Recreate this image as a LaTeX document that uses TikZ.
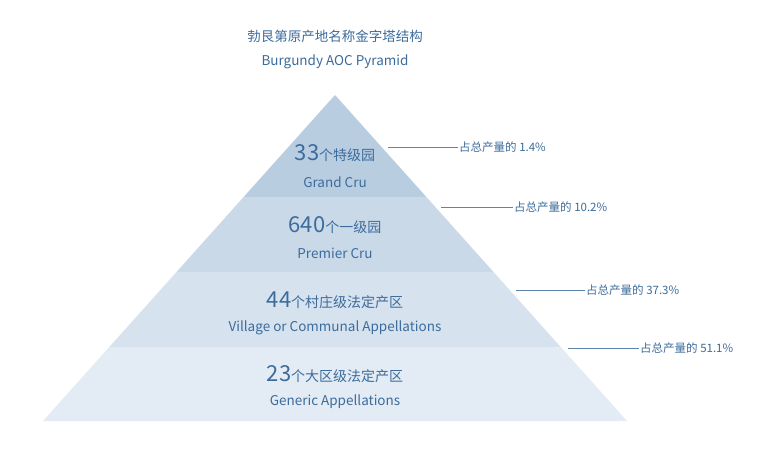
\documentclass[tikz,border=0pt]{standalone}
\usepackage{fontspec}
\setmainfont{Noto Sans CJK SC}
\begin{document}
\begin{tikzpicture}[x=1pt,y=-1pt,
  lbl/.style={text=tcol,inner sep=0pt},
  eng/.style={text=tcol,inner sep=0pt,font=\fontsize{13.5}{16}\selectfont},
  conn/.style={draw=lcol,line width=0.8pt},
  pct/.style={text=tcol,font=\fontsize{11.5}{14}\selectfont,anchor=west,inner sep=1pt}]
\definecolor{tcol}{HTML}{3C6C9C}
\definecolor{lcol}{HTML}{5B85AD}
\definecolor{c1}{HTML}{B9CDE1}
\definecolor{c2}{HTML}{C9D9E8}
\definecolor{c3}{HTML}{D6E2EE}
\definecolor{c4}{HTML}{E3EBF4}
\newcommand\bignum[2]{\fontsize{22}{26}\selectfont #1\fontsize{14}{16}\selectfont #2}
\useasboundingbox (0,0) rectangle (764,456);
\fill[white] (0,0) rectangle (764,456);
\fill[c1] (335,95) -- (426.4,197) -- (243.6,197) -- cycle;
\fill[c2] (243.6,197) -- (426.4,197) -- (493.5,272) -- (176.5,272) -- cycle;
\fill[c3] (176.5,272) -- (493.5,272) -- (560.7,347) -- (109.3,347) -- cycle;
\fill[c4] (109.3,347) -- (560.7,347) -- (627,421) -- (43,421) -- cycle;
\node[eng] (t1) at (335,36) {勃艮第原产地名称金字塔结构};
\node[eng] (t2) at (335,62) {Burgundy AOC Pyramid};
\node[lbl] (a1) at (335,153) {\bignum{33}{个特级园}};
\node[eng] (b1) at (335,182) {Grand Cru};
\node[lbl] (a2) at (335,225) {\bignum{640}{个一级园}};
\node[eng] (b2) at (335,253) {Premier Cru};
\node[lbl] (a3) at (335,300) {\bignum{44}{个村庄级法定产区}};
\node[eng] (b3) at (335,328) {Village or Communal Appellations};
\node[lbl] (a4) at (335,374) {\bignum{23}{个大区级法定产区}};
\node[eng] (b4) at (335,402) {Generic Appellations};
\coordinate (s1) at (388,147.5); \node[pct] (p1) at (458,147.5) {占总产量的 1.4\%};
\coordinate (s2) at (441,207); \node[pct] (p2) at (513,207) {占总产量的 10.2\%};
\coordinate (s3) at (516,290); \node[pct] (p3) at (585,290) {占总产量的 37.3\%};
\coordinate (s4) at (568,348); \node[pct] (p4) at (639,348) {占总产量的 51.1\%};
\foreach \i in {1,...,4} \draw[conn] (s\i) -- (p\i.west);
\end{tikzpicture}
\end{document}
